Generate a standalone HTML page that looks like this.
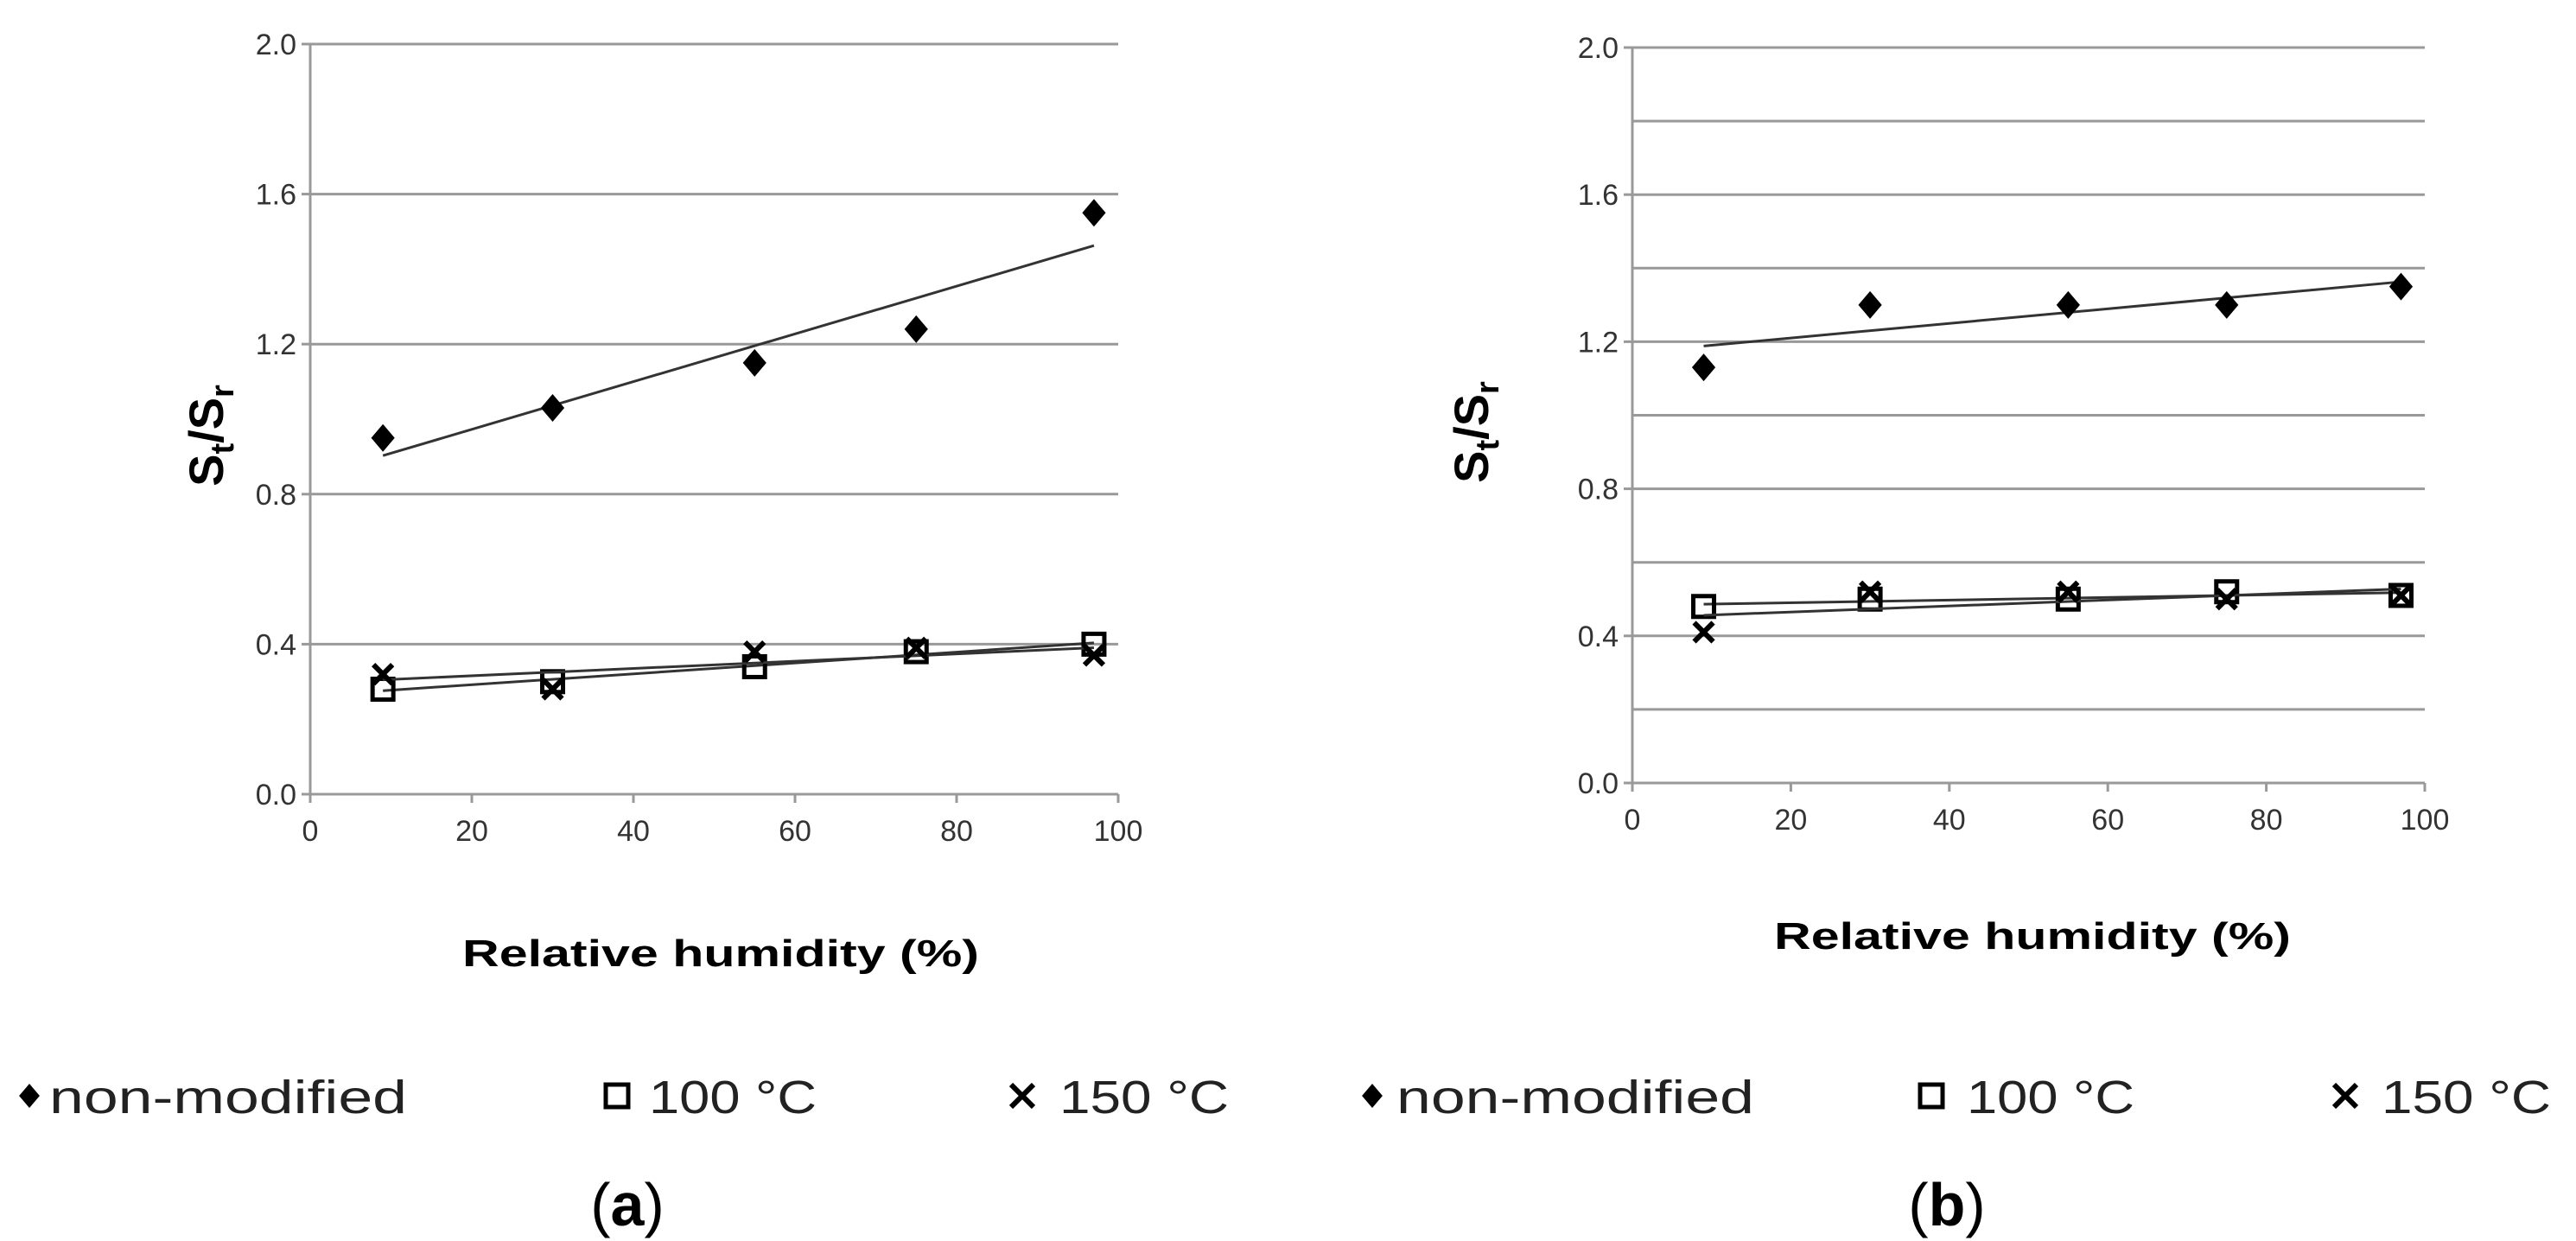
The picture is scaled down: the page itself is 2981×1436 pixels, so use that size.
<!DOCTYPE html>
<html><head><meta charset="utf-8"><style>
html,body{margin:0;padding:0;background:#fff;}
svg{display:block;}
text{font-family:"Liberation Sans",Arial,sans-serif;}
</style></head><body>
<svg id="fig" width="2981" height="1436" viewBox="0 0 2981 1436">
<text x="726" y="1418" font-family="Liberation Serif" font-size="70" text-anchor="middle">(<tspan font-weight="bold">a</tspan>)</text>
<text x="2253" y="1418" font-family="Liberation Serif" font-size="70" text-anchor="middle">(<tspan font-weight="bold">b</tspan>)</text>
</svg>
<script>
const humidity = [9, 30, 55, 75, 97];
const aNonModified = [0.95, 1.03, 1.15, 1.24, 1.55];
const a100C = [0.28, 0.30, 0.34, 0.38, 0.40];
const a150C = [0.32, 0.28, 0.38, 0.39, 0.37];
const bNonModified = [1.13, 1.30, 1.30, 1.30, 1.35];
const b100C = [0.48, 0.50, 0.50, 0.52, 0.51];
const b150C = [0.41, 0.52, 0.52, 0.50, 0.51];
const xTicks = [0, 20, 40, 60, 80, 100];
const yTickLabels = ["0.0", "0.4", "0.8", "1.2", "1.6", "2.0"];

const NS = "http://www.w3.org/2000/svg";
const svg = document.getElementById("fig");
function mk(tag, attrs, parent) {
  const e = document.createElementNS(NS, tag);
  for (const k in attrs) e.setAttribute(k, attrs[k]);
  (parent || svg).appendChild(e);
  return e;
}
function fit(xs, ys) {
  const n = xs.length, mx = xs.reduce((a, b) => a + b) / n, my = ys.reduce((a, b) => a + b) / n;
  let sxy = 0, sxx = 0;
  for (let i = 0; i < n; i++) { sxy += (xs[i] - mx) * (ys[i] - my); sxx += (xs[i] - mx) ** 2; }
  const b = sxy / sxx, a = my - b * mx;
  return x => a + b * x;
}
function diamond(g, cx, cy, s) {
  return mk("polygon", {points: `${cx},${cy - s} ${cx + s * 0.85},${cy} ${cx},${cy + s} ${cx - s * 0.85},${cy}`, fill: "#000"}, g);
}
function square(g, cx, cy, s) {
  return mk("rect", {x: cx - s, y: cy - s, width: 2 * s, height: 2 * s, fill: "none", stroke: "#000", "stroke-width": 5}, g);
}
function cross(g, cx, cy, s) {
  return mk("path", {d: `M${cx - s},${cy - s}L${cx + s},${cy + s}M${cx + s},${cy - s}L${cx - s},${cy + s}`, stroke: "#000", "stroke-width": 6, fill: "none"}, g);
}

function chart(cfg) {
  const g = mk("g", {});
  
  
  const X = v => cfg.x0 + (cfg.x1 - cfg.x0) * v / 100;
  const Y = v => cfg.y0 - (cfg.y0 - cfg.y1) * v / 2.0;
  for (let v = 0; v <= 2.0001; v += cfg.gridStep) {
    const ln = mk("line", {x1: cfg.x0, x2: cfg.x1, y1: Y(v), y2: Y(v), stroke: "#999", "stroke-width": 3}, g);
    
    
  }
  const ya = mk("line", {x1: cfg.x0, x2: cfg.x0, y1: cfg.y1, y2: cfg.y0 + 10, stroke: "#999", "stroke-width": 3}, g);
  
  
  yTickLabels.forEach((t, i) => {
    const v = i * 0.4;
    mk("line", {x1: cfg.x0 - 10, x2: cfg.x0, y1: Y(v), y2: Y(v), stroke: "#999", "stroke-width": 3}, g);
    const tx = mk("text", {x: cfg.x0 - 16, y: Y(v) + 12, "font-size": 34, fill: "#333", "text-anchor": "end"}, g);
    tx.textContent = t;
    
    
  });
  xTicks.forEach(v => {
    mk("line", {x1: X(v), x2: X(v), y1: cfg.y0, y2: cfg.y0 + 10, stroke: "#999", "stroke-width": 3}, g);
    const tx = mk("text", {x: X(v), y: cfg.y0 + 54, "font-size": 34, fill: "#333", "text-anchor": "middle"}, g);
    tx.textContent = v;
    
    
  });
  const yt = mk("text", {transform: `translate(${cfg.ytx},${cfg.yty}) rotate(-90)`, "font-size": 56, "font-weight": "bold", "text-anchor": "middle"}, g);
  yt.innerHTML = 'S<tspan font-size="38" dy="12">t</tspan><tspan dy="-12">/S</tspan><tspan font-size="38" dy="12">r</tspan>';
  
  
  const xt = mk("text", {x: cfg.xtx, y: cfg.xty, "font-size": 44, "font-weight": "bold", "text-anchor": "middle", textLength: 598, lengthAdjust: "spacingAndGlyphs"}, g);
  xt.textContent = "Relative humidity (%)";
  
  
  cfg.series.forEach(s => {
    const f = fit(humidity, s.vals);
    const xa = humidity[0], xb = humidity[humidity.length - 1];
    const tl = mk("line", {x1: X(xa), y1: Y(f(xa)), x2: X(xb), y2: Y(f(xb)), stroke: "#333", "stroke-width": 3}, g);
    
    
    s.vals.forEach((v, i) => {
      const m = s.marker(g, X(humidity[i]), Y(v), s.size);
      
      
    });
  });
}
chart({name: "chart-a", x0: 359, x1: 1294, y0: 919, y1: 51, gridStep: 0.4, ytx: 258, yty: 504, xtx: 834, xty: 1118,
  series: [
    {key: "non-modified", vals: aNonModified, marker: diamond, size: 16},
    {key: "100c", vals: a100C, marker: square, size: 12},
    {key: "150c", vals: a150C, marker: cross, size: 11}]});
chart({name: "chart-b", x0: 1889, x1: 2806, y0: 906, y1: 55, gridStep: 0.2, ytx: 1722, yty: 500, xtx: 2352, xty: 1098,
  series: [
    {key: "non-modified", vals: bNonModified, marker: diamond, size: 16},
    {key: "100c", vals: b100C, marker: square, size: 12},
    {key: "150c", vals: b150C, marker: cross, size: 11}]});

const legendItems = [
  {m: diamond, mx: 34, tx: 57, w: 414, t: "non-modified", s: 14},
  {m: square, mx: 714, tx: 751, w: 194, t: "100 °C", s: 13},
  {m: cross, mx: 1183, tx: 1226, w: 196, t: "150 °C", s: 13},
  {m: diamond, mx: 1588, tx: 1616, w: 414, t: "non-modified", s: 14},
  {m: square, mx: 2235, tx: 2276, w: 194, t: "100 °C", s: 13},
  {m: cross, mx: 2714, tx: 2756, w: 196, t: "150 °C", s: 13}];
legendItems.forEach(it => {
  const g = mk("g", {});
  
  
  it.m(g, it.mx, 1268, it.s);
  const t = mk("text", {x: it.tx, y: 1288, "font-size": 54, fill: "#222", textLength: it.w, lengthAdjust: "spacingAndGlyphs"}, g);
  t.textContent = it.t;
});
</script>
</body></html>
